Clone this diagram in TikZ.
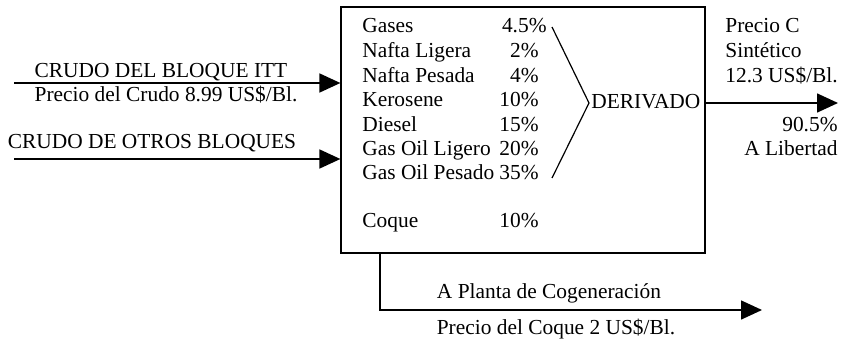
\documentclass[tikz,border=0pt]{standalone}
\usepackage{fontspec}
\setmainfont{Liberation Serif}
\usetikzlibrary{arrows.meta,positioning,calc}
\tikzstyle{texto}=[inner sep=0pt,text height=1.5ex,text depth=.25ex]
\tikzstyle{flecha}=[line width=0.8pt,-{Triangle[length=10.5pt,width=9.5pt]}]

\begin{document}
\begin{tikzpicture}[x=0.5pt,y=-0.5pt,font=\fontsize{10.7}{12}\selectfont]
\useasboundingbox (0,0) rectangle (846,342);
\node [draw,line width=0.6pt,minimum width=182pt,minimum height=123pt,inner sep=0pt] (planta) at (523,130) {};
% entradas
\coordinate (ent1) at (14,83);
\coordinate (ent2) at (14,159);
\draw [flecha] (ent1) -- (planta.west |- ent1);
\draw [flecha] (ent2) -- (planta.west |- ent2);
\node [texto] (itt) at (161,72) {CRUDO DEL BLOQUE ITT};
\node [texto] (preciocrudo) at (166,96) {Precio del Crudo 8.99 US\$/Bl.};
\node [texto] (otros) at (152,143) {CRUDO DE OTROS BLOQUES};
% derivados
\foreach \prod/\pct/\y in {Nafta Ligera/2/52, Nafta Pesada/4/77, Kerosene/10/101,
    Diesel/15/126, Gas Oil Ligero/20/150, Gas Oil Pesado/35/174, Coque/10/222}
  {
  \node [texto,anchor=west] at (362,\y) {\prod};
  \node [texto,anchor=east] at (539,\y) {\pct\%};
  }
\node [texto,anchor=west] (gases) at (362,27) {Gases};
\node [texto,anchor=east] (pgases) at (547,27) {4.5\%};
\draw [line width=0.6pt] (552,27) -- (589,103) -- (552,178);
\node [texto,anchor=west] (derivado) at (591,103) {DERIVADO};
% salida sintetico
\coordinate (salida) at (838,103);
\draw [flecha] (planta.east |- derivado) -- (salida);
\node [texto,anchor=west] (pc) at (725,27) {Precio C};
\node [texto,anchor=west] (sint) at (725,52) {Sintético};
\node [texto,anchor=west] (p123) at (725,77) {12.3 US\$/Bl.};
\node [texto,anchor=east] (pct905) at (838,126) {90.5\%};
\node [texto,anchor=east] (libertad) at (838,150) {A Libertad};
% salida coque
\coordinate (codo) at (380,310);
\coordinate (cogen) at (762,310);
\draw [flecha] (planta.south -| codo) -- (codo) -- (cogen);
\node [texto] (planta2) at (549,293) {A Planta de Cogeneración};
\node [texto] (preciocoque) at (556,329) {Precio del Coque 2 US\$/Bl.};
\end{tikzpicture}
\end{document}
